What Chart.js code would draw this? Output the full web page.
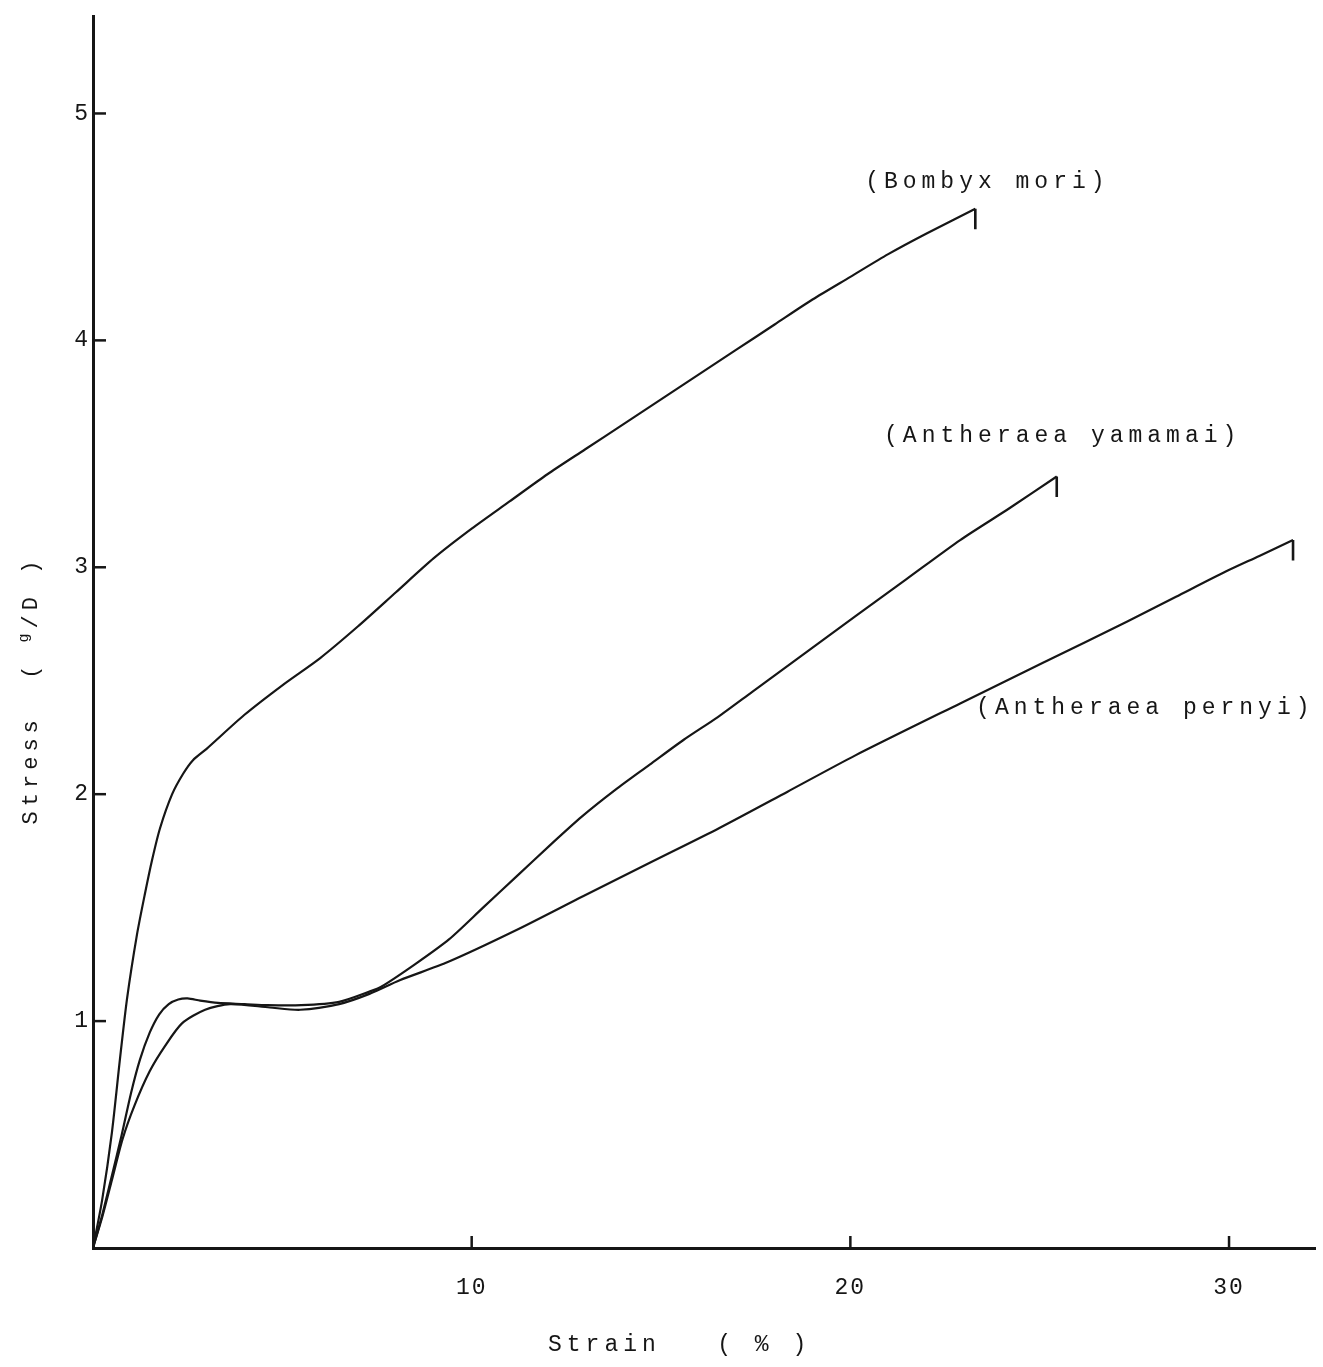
<!DOCTYPE html>
<html>
<head>
<meta charset="utf-8">
<title>Stress-strain curves of silk fibres</title>
<script src="https://cdn.jsdelivr.net/npm/chart.js@4.4.1/dist/chart.umd.min.js"></script>
<style>
  html, body { margin: 0; padding: 0; background: #fff; }
  canvas { display: block; }
</style>
</head>
<body>
<canvas id="stressChart" width="1323" height="1367"></canvas>
<script>
// values: strain in %, stress in g/D
const bombyxStrain = [0, 0.24, 0.5, 0.71, 0.9, 1.16, 1.37, 1.56, 1.77, 2.09, 2.38, 2.64, 3.0, 4.0, 5.0, 6.0, 7.0, 8.0, 9.0, 10.0, 11.0, 12.0, 13.0, 14.0, 15.0, 16.0, 17.0, 18.0, 19.0, 20.0, 21.0, 22.0, 23.3];
const bombyxStress = [0, 0.21, 0.51, 0.83, 1.1, 1.38, 1.56, 1.71, 1.85, 2.0, 2.09, 2.15, 2.2, 2.35, 2.48, 2.6, 2.74, 2.89, 3.04, 3.17, 3.29, 3.41, 3.52, 3.63, 3.74, 3.85, 3.96, 4.07, 4.18, 4.28, 4.38, 4.47, 4.58];

const yamamaiStrain = [0, 0.25, 0.5, 0.76, 1.0, 1.24, 1.5, 1.75, 2.0, 2.25, 2.5, 2.83, 3.3, 4.0, 4.6, 5.5, 6.5, 7.3, 7.6, 8.5, 9.4, 10.3, 11.2, 12.1, 12.9, 13.8, 14.7, 15.6, 16.5, 17.4, 18.3, 19.2, 20.1, 21.5, 22.9, 24.2, 25.45];
const yamamaiStress = [0, 0.15, 0.32, 0.5, 0.68, 0.83, 0.95, 1.03, 1.075, 1.095, 1.1, 1.09, 1.08, 1.075, 1.07, 1.07, 1.085, 1.13, 1.15, 1.25, 1.36, 1.5, 1.64, 1.78, 1.9, 2.02, 2.13, 2.24, 2.34, 2.45, 2.56, 2.67, 2.78, 2.95, 3.12, 3.26, 3.4];

const pernyiStrain = [0, 0.25, 0.5, 0.78, 1.1, 1.5, 1.9, 2.35, 2.96, 3.62, 4.67, 5.47, 6.5, 7.3, 8.1, 9.37, 11.17, 12.94, 14.73, 16.53, 18.33, 20.12, 22.9, 25.1, 27.3, 28.6, 29.9, 30.8, 31.69];
const pernyiStress = [0, 0.14, 0.3, 0.48, 0.63, 0.78, 0.89, 0.99, 1.05, 1.075, 1.06, 1.05, 1.075, 1.12, 1.18, 1.26, 1.4, 1.55, 1.7, 1.85, 2.01, 2.17, 2.4, 2.58, 2.76, 2.87, 2.98, 3.05, 3.12];

// little break marks at the end of each curve
const hookStrain = [23.3, 25.45, 31.69];
const hookTop = [4.58, 3.4, 3.12];
const hookBottom = [4.49, 3.31, 3.03];

const speciesLabels = ['(Bombyx mori)', '(Antheraea yamamai)', '(Antheraea pernyi)'];
const labelStrain = [20.39, 20.89, 23.32];
const labelStress = [4.7, 3.58, 2.38];

const xTickValues = [10, 20, 30];
const yTickValues = [1, 2, 3, 4, 5];
const xTitle = 'Strain   ( % )';
const yTitleMain = 'Stress  ( ';
const yTitleSup = 'g';
const yTitleEnd = '/D )';

const ink = '#161616';
const typeFont = '"Liberation Mono", "Courier New", monospace';

function toPoints(xs, ys) {
    return xs.map((v, i) => ({ x: v, y: ys[i] }));
}

function curve(xs, ys) {
    return {
        data: toPoints(xs, ys),
        showLine: true,
        borderColor: ink,
        borderWidth: 2.2,
        pointRadius: 0,
        tension: 0.25,
        fill: false
    };
}

const hookSets = hookStrain.map((s, i) => ({
    data: [{ x: s, y: hookTop[i] }, { x: s, y: hookBottom[i] }],
    showLine: true,
    borderColor: ink,
    borderWidth: 2.6,
    pointRadius: 0,
    tension: 0
}));

const paperPlugin = {
    id: 'paper',
    beforeDraw(chart) {
        chart.ctx.letterSpacing = '2px';
    },
    afterDraw(chart) {
        const ctx = chart.ctx;
        const x = chart.scales.x;
        const y = chart.scales.y;
        const area = chart.chartArea;
        ctx.save();

        // tick marks point inward like on the original
        ctx.strokeStyle = ink;
        ctx.lineWidth = 2.5;
        yTickValues.forEach(v => {
            const py = y.getPixelForValue(v);
            ctx.beginPath();
            ctx.moveTo(area.left, py);
            ctx.lineTo(area.left + 13, py);
            ctx.stroke();
        });
        xTickValues.forEach(v => {
            const px = x.getPixelForValue(v);
            ctx.beginPath();
            ctx.moveTo(px, area.bottom);
            ctx.lineTo(px, area.bottom - 12);
            ctx.stroke();
        });

        // curve names
        ctx.fillStyle = ink;
        ctx.font = '23px ' + typeFont;
        ctx.letterSpacing = '5px';
        ctx.textAlign = 'left';
        ctx.textBaseline = 'middle';
        speciesLabels.forEach((t, i) => {
            ctx.fillText(t, x.getPixelForValue(labelStrain[i]), y.getPixelForValue(labelStress[i]));
        });

        // axis titles
        ctx.fillText(xTitle, 548, 1345);

        ctx.translate(31, 690);
        ctx.rotate(-Math.PI / 2);
        ctx.font = '22px ' + typeFont;
        const wMain = ctx.measureText(yTitleMain).width;
        ctx.font = '15px ' + typeFont;
        const wSup = ctx.measureText(yTitleSup).width;
        ctx.font = '22px ' + typeFont;
        const wEnd = ctx.measureText(yTitleEnd).width;
        let cx = -(wMain + wSup + wEnd) / 2;
        ctx.fillText(yTitleMain, cx, 0);
        cx += wMain;
        ctx.font = '15px ' + typeFont;
        ctx.fillText(yTitleSup, cx, -7);
        cx += wSup;
        ctx.font = '22px ' + typeFont;
        ctx.fillText(yTitleEnd, cx, 0);

        ctx.restore();
    }
};

new Chart(document.getElementById('stressChart'), {
    type: 'scatter',
    data: {
        datasets: [
            curve(bombyxStrain, bombyxStress),
            curve(yamamaiStrain, yamamaiStress),
            curve(pernyiStrain, pernyiStress)
        ].concat(hookSets)
    },
    options: {
        responsive: false,
        animation: false,
        layout: { padding: { top: 12, right: 8, left: 0, bottom: 0 } },
        plugins: {
            legend: { display: false },
            tooltip: { enabled: false }
        },
        scales: {
            x: {
                type: 'linear',
                min: 0,
                max: 32.27,
                grid: { display: false, drawTicks: false },
                border: { display: true, color: ink, width: 3 },
                afterBuildTicks: s => { s.ticks = xTickValues.map(v => ({ value: v })); },
                afterFit: s => { s.height = 119; },
                ticks: {
                    color: ink,
                    padding: 26,
                    font: { family: typeFont, size: 23 }
                }
            },
            y: {
                type: 'linear',
                min: 0,
                max: 5.426,
                grid: { display: false, drawTicks: false },
                border: { display: true, color: ink, width: 3 },
                afterBuildTicks: s => { s.ticks = yTickValues.map(v => ({ value: v })); },
                afterFit: s => { s.width = 93; },
                ticks: {
                    color: ink,
                    padding: 3,
                    font: { family: typeFont, size: 23 }
                }
            }
        }
    },
    plugins: [paperPlugin]
});
</script>
</body>
</html>
